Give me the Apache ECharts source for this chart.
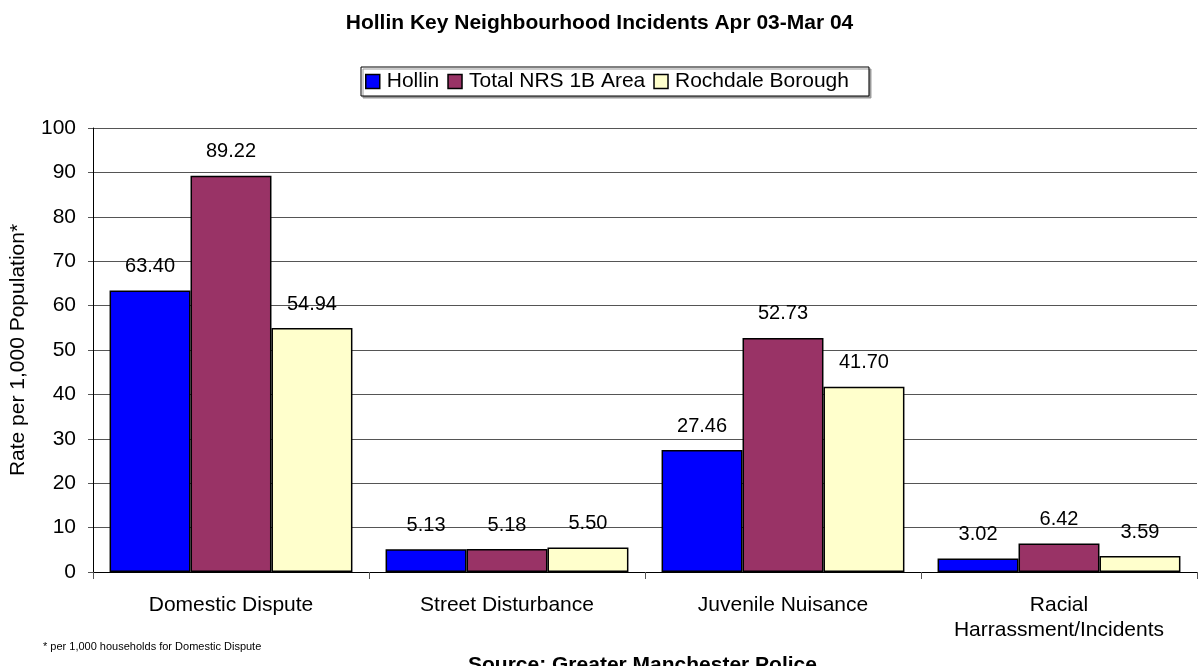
<!DOCTYPE html>
<html><head><meta charset="utf-8">
<script src="https://cdn.jsdelivr.net/npm/echarts@6/dist/echarts.min.js"></script>
<style>html,body{margin:0;padding:0;background:#fff}#c{width:1199px;height:666px}</style>
</head><body><div id="c"></div>
<script>
const categories = ['Domestic Dispute', 'Street Disturbance', 'Juvenile Nuisance', 'Racial\nHarrassment/Incidents'];
const hollin = [63.40, 5.13, 27.46, 3.02];
const totalNRS = [89.22, 5.18, 52.73, 6.42];
const rochdale = [54.94, 5.50, 41.70, 3.59];
const seriesNames = ['Hollin', 'Total NRS 1B Area', 'Rochdale Borough'];
const colors = ['#0000FF', '#993366', '#FFFFCC'];
const font = 'Liberation Sans, Arial, sans-serif';

const chart = echarts.init(document.getElementById('c'), null, {renderer: 'canvas'});
const mk = (name, data, color) => ({
  name, type: 'bar', data,
  barGap: '0%', barCategoryGap: '12%',
  itemStyle: {color, borderColor: '#000', borderWidth: 1.5},
  label: {show: true, position: 'top', distance: 14, color: '#000', fontSize: 20, fontFamily: font,
    formatter: p => p.value.toFixed(2)},
  emphasis: {disabled: true}
});
chart.setOption({
  animation: false,
  title: {text: 'Hollin Key Neighbourhood Incidents Apr 03-Mar 04', left: 'center', top: 8,
    textStyle: {fontSize: 21, fontWeight: 'bold', color: '#000', fontFamily: font}},
  legend: {top: 67, left: 361, data: seriesNames, itemWidth: 14, itemHeight: 14, itemGap: 8,
    borderColor: '#000', borderWidth: 1, padding: [4, 20, 4, 4],
    shadowColor: '#999', shadowOffsetX: 2, shadowOffsetY: 2,
    backgroundColor: '#fff',
    textStyle: {fontSize: 21, color: '#000', fontFamily: font, padding: [0, 0, 0, 2]},
    itemStyle: {borderColor: '#000', borderWidth: 1.5}, icon: 'rect'},
  grid: {left: 93, right: 2, top: 128, bottom: 94},
  xAxis: {type: 'category', data: categories,
    axisLine: {lineStyle: {color: '#000', width: 1}},
    axisTick: {show: true, length: 7, lineStyle: {color: '#555'}},
    axisLabel: {fontSize: 21, color: '#000', fontFamily: font, margin: 21, lineHeight: 25, interval: 0}},
  yAxis: {type: 'value', min: 0, max: 100, interval: 10,
    name: 'Rate per 1,000 Population*', nameLocation: 'middle', nameGap: 64, nameRotate: 90,
    nameTextStyle: {fontSize: 21, color: '#000', fontFamily: font},
    axisLine: {show: true, lineStyle: {color: '#000'}},
    axisTick: {show: true, length: 5, lineStyle: {color: '#555'}},
    axisLabel: {fontSize: 21, color: '#000', fontFamily: font, margin: 17},
    splitLine: {lineStyle: {color: '#555', width: 1}}},
  series: [mk(seriesNames[0], hollin, colors[0]), mk(seriesNames[1], totalNRS, colors[1]), mk(seriesNames[2], rochdale, colors[2])],
  graphic: [
    {type: 'text', left: 43, top: 641, style: {text: '* per 1,000 households for Domestic Dispute', fontSize: 11, fill: '#000', fontFamily: font}},
    {type: 'text', left: 468, top: 655, style: {text: 'Source: Greater Manchester Police', fontSize: 21, fontWeight: 'bold', fill: '#000', fontFamily: font}}
  ]
});
</script></body></html>
